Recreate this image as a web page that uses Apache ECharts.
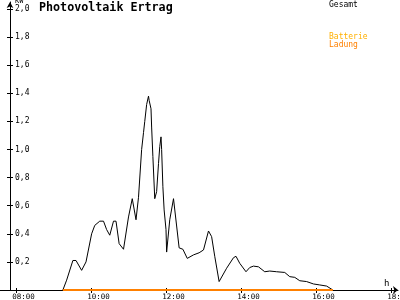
<!DOCTYPE html>
<html><head><meta charset="utf-8">
<script src="https://cdn.jsdelivr.net/npm/echarts@6/dist/echarts.min.js"></script>
<style>html,body{margin:0;padding:0;background:#fff}#c{width:400px;height:300px}</style>
</head><body><div id="c"></div>
<script>
const times = ['09:15','09:21','09:31','09:36','09:45','09:52','10:01','10:06','10:14','10:20','10:25','10:30','10:36','10:40','10:45','10:52','11:00','11:06','11:12','11:16','11:21','11:24','11:26','11:29','11:32','11:33','11:36','11:37','11:39','11:42','11:45','11:48','11:50','11:52','11:53','11:55','11:57','12:00','12:01','12:06','12:12','12:21','12:27','12:34','12:44','12:53','13:00','13:08','13:13','13:18','13:25','13:37','13:48','13:52','13:58','14:08','14:14','14:20','14:28','14:38','14:46','14:57','15:10','15:18','15:26','15:34','15:45','15:56','16:06','16:17','16:27'];
const gesamt = [0.00,0.07,0.21,0.21,0.14,0.20,0.40,0.46,0.49,0.49,0.43,0.39,0.49,0.49,0.33,0.29,0.52,0.65,0.50,0.66,1.00,1.12,1.20,1.32,1.38,1.35,1.29,1.16,0.95,0.65,0.70,0.90,1.02,1.09,1.00,0.735,0.57,0.43,0.27,0.50,0.65,0.30,0.29,0.225,0.25,0.265,0.285,0.42,0.38,0.24,0.06,0.155,0.23,0.24,0.19,0.13,0.16,0.17,0.165,0.13,0.135,0.13,0.125,0.095,0.09,0.066,0.06,0.043,0.036,0.028,0.00];
const batteryTimes = ['09:15','16:27'];
const battery = [0, 0];
const xTicks = [8, 10, 12, 14, 16, 18];
const yTicks = [0.2, 0.4, 0.6, 0.8, 1.0, 1.2, 1.4, 1.6, 1.8, 2.0];
const seriesNames = ['Gesamt', 'Batterie Ladung'];

function toHours(s){ const p = s.split(':').map(Number); return p[0] + p[1]/60; }
const FONT = 'DejaVu Sans Mono';
const xMin = 7.573, xMax = 18.187, yMax = 2.05;
const labelLead = 0.1; // labels start slightly left of their tick
const lbl = {fontFamily: FONT, fontSize: 8, color: '#000'};

const chart = echarts.init(document.getElementById('c'), null, {renderer: 'canvas'});
chart.setOption({
  animation: false,
  backgroundColor: '#fff',
  title: {text: 'Photovoltaik Ertrag', left: 39, top: 2, padding: 0,
    textStyle: {fontFamily: FONT, fontWeight: 'bold', fontSize: 11.7, color: '#000'}},
  legend: [
    {data: [seriesNames[0]], left: 324, top: 1, icon: 'none', itemWidth: 0, itemHeight: 0, padding: 0,
     textStyle: {fontFamily: FONT, fontSize: 8, color: '#000', padding: 0}, selectedMode: false},
    {data: [seriesNames[1]], left: 324, top: 33, icon: 'none', itemWidth: 0, itemHeight: 0, padding: 0,
     selectedMode: false,
     formatter: function(n){ const p = n.split(' '); return '{a|' + p[0] + '}\n{b|' + p[1] + '}'; },
     textStyle: {fontFamily: FONT, fontSize: 8, padding: 0,
       rich: {a: {color: '#FFB000', fontFamily: FONT, fontSize: 8, lineHeight: 8},
              b: {color: '#FF8000', fontFamily: FONT, fontSize: 8, lineHeight: 8}}}}
  ],
  grid: {left: 0, right: 2, top: 2, bottom: 10, containLabel: false, outerBoundsMode: 'none'},
  xAxis: [
    {type: 'value', min: xMin, max: xMax, position: 'bottom',
     name: 'h', nameLocation: 'end', nameGap: -14,
     nameTextStyle: {fontFamily: FONT, fontSize: 9, color: '#000', verticalAlign: 'bottom', padding: [0,0,2,0]},
     axisLine: {show: true, onZero: false, symbol: ['none', 'arrow'], symbolSize: [6, 5], lineStyle: {color: '#000', width: 1}},
     axisTick: {show: true, inside: false, length: 3, customValues: xTicks, lineStyle: {color: '#000'}},
     axisLabel: {show: true, customValues: xTicks.map(v => v - labelLead), margin: 3, hideOverlap: false,
       align: 'left', fontFamily: FONT, fontSize: 7.5, color: '#000',
       formatter: v => { const h = Math.round(v); return (h < 10 ? '0' : '') + h + ':00'; }},
     splitLine: {show: false}},
    {type: 'value', min: xMin, max: xMax, position: 'bottom',
     axisLine: {show: false},
     axisTick: {show: true, inside: true, length: 2, customValues: xTicks, lineStyle: {color: '#000'}},
     axisLabel: {show: false}, splitLine: {show: false}}
  ],
  yAxis: [
    {type: 'value', min: 0, max: yMax, position: 'left', offset: -10,
     name: 'KW', nameLocation: 'end', nameGap: 0,
     nameTextStyle: {fontFamily: FONT, fontSize: 7, color: '#000', align: 'left', verticalAlign: 'top', padding: [3,0,0,5]},
     axisLine: {show: true, symbol: ['none', 'arrow'], symbolSize: [5, 6], lineStyle: {color: '#000', width: 1}},
     axisTick: {show: true, inside: false, length: 3, customValues: yTicks, lineStyle: {color: '#000'}},
     axisLabel: {show: true, inside: true, margin: 5, customValues: yTicks, ...lbl,
       formatter: v => v.toFixed(1).replace('.', ',')},
     splitLine: {show: false}},
    {type: 'value', min: 0, max: yMax, position: 'left', offset: -10,
     axisLine: {show: false},
     axisTick: {show: true, inside: true, length: 3, customValues: yTicks, lineStyle: {color: '#000'}},
     axisLabel: {show: false}, splitLine: {show: false}}
  ],
  series: [
    {name: seriesNames[0], type: 'line', showSymbol: false, symbol: 'none',
     data: times.map((t, i) => [toHours(t), gesamt[i]]),
     lineStyle: {color: '#000', width: 1}, itemStyle: {color: '#000'}, z: 3},
    {name: seriesNames[1], type: 'line', showSymbol: false, symbol: 'none',
     data: batteryTimes.map((t, i) => [toHours(t), battery[i]]),
     lineStyle: {color: '#FF8000', width: 2}, itemStyle: {color: '#FF8000'}, z: 4}
  ]
});
</script></body></html>
